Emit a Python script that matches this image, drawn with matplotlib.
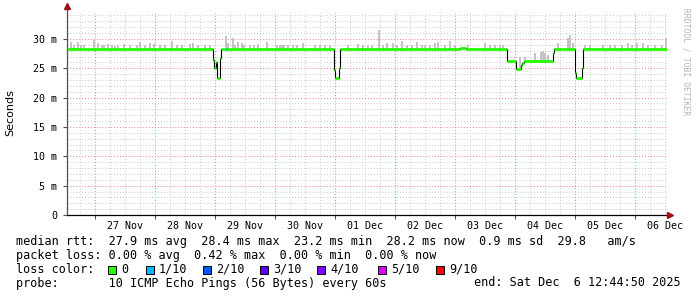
import datetime as dt
import numpy as np
import matplotlib
matplotlib.use("Agg")
import matplotlib.pyplot as plt
import matplotlib.dates as mdates
from matplotlib.patches import Rectangle

# time window of the graph
end = dt.datetime(2025, 12, 6, 12, 44, 50)
start = end - dt.timedelta(days=10)

# median rtt as steps: hours since window start -> ms
med_hours = [0.0, 58.4, 58.8, 59.6, 60.0, 61.2, 61.6, 106.8, 107.2, 108.8, 109.2,
             157.2, 159.6, 176.0, 179.6, 181.6, 182.0, 182.8, 194.4, 194.8,
             203.2, 203.6, 206.0, 206.4]
med_ms = [28.2, 26.4, 25.0, 26.0, 23.3, 26.8, 28.2, 24.7, 23.3, 25.0, 28.2,
          28.4, 28.2, 26.2, 24.9, 25.6, 25.9, 26.2, 27.6, 28.2,
          24.2, 23.3, 25.0, 28.2]

# smoke: max ping per spike (hours since start -> ms)
smoke_hours = [1.6, 2.8, 4.4, 5.6, 6.8, 10.8, 12.4, 14.0, 14.8, 16.4, 18.0, 19.2, 20.4,
               22.8, 25.2, 28.0, 29.2, 31.2, 33.2, 34.8, 37.2, 39.2, 42.0, 44.0, 46.0,
               49.2, 50.4, 52.4, 55.2, 57.2,
               63.6, 64.4, 66.4, 67.2, 68.4, 70.0, 70.8, 73.2, 74.8, 76.4, 80.0, 84.0,
               85.2, 86.0, 86.8, 88.4, 90.4, 92.0, 94.4, 99.2, 101.2, 103.2, 105.2,
               112.4, 116.4, 118.4, 120.4,
               122.0, 124.8, 126.4, 128.0, 130.4, 132.0, 134.0, 136.0, 138.0, 140.0,
               142.0, 143.2, 145.2, 147.2, 148.4, 151.2, 153.2, 155.2, 160.4, 167.2,
               169.2, 171.2, 173.2, 174.4,
               181.2, 183.2, 187.2, 189.6, 190.4, 191.2, 192.4, 196.4, 200.4, 201.2,
               202.4, 207.2, 209.2, 214.4, 217.2, 219.2, 222.0, 224.4, 226.0, 228.0,
               230.4, 232.4, 235.2, 238.0, 239.6]
smoke_ms = [29.5, 28.9, 29.4, 29.0, 28.9, 29.8, 29.3, 29.0, 28.9, 29.1, 28.9, 28.8, 28.9,
            29.1, 29.0, 29.0, 29.5, 29.0, 29.3, 29.1, 28.9, 29.0, 29.7, 28.9, 29.0,
            29.1, 29.3, 28.9, 29.0, 28.9,
            30.5, 29.3, 30.1, 29.0, 29.5, 29.3, 28.9, 28.9, 28.9, 29.1, 29.4, 29.0,
            29.0, 29.0, 29.0, 28.9, 29.0, 28.9, 29.3, 29.0, 28.9, 28.9, 28.9,
            28.9, 29.1, 28.9, 29.0,
            29.0, 31.5, 29.0, 29.3, 29.3, 29.0, 29.7, 28.9, 29.0, 29.5,
            29.0, 29.0, 28.9, 29.3, 29.5, 29.0, 29.7, 28.9, 28.9, 29.3,
            29.0, 28.9, 29.0, 28.9,
            27.0, 27.0, 27.6, 27.8, 28.0, 27.6, 27.3, 29.3, 30.1, 30.7,
            29.3, 29.0, 28.9, 29.0, 28.9, 28.9, 29.0, 29.3, 28.9, 29.3,
            29.3, 28.9, 29.0, 28.9, 30.1]

# packet loss events (hours since start, lost pings out of 10)
loss_hours = [63.6]
loss_count = [1]

loss_levels = ["0", "1/10", "2/10", "3/10", "4/10", "5/10", "9/10"]
loss_colors = ["#26ff00", "#00b8ff", "#0059ff", "#5e00ff", "#7e00ff", "#dd00ff", "#ff0000"]
loss_color_of = {0: 0, 1: 1, 2: 2, 3: 3, 4: 4, 5: 5, 9: 6}

W, H = 697, 297
mono = "DejaVu Sans Mono"


def hrs(h):
    return mdates.date2num(start + dt.timedelta(hours=h))


def fx(px):
    return px / W


def fy(py):
    return 1 - py / H


fig = plt.figure(figsize=(W / 100, H / 100), dpi=100)
fig.patch.set_facecolor("white")
ax = fig.add_axes([fx(67), fy(215), 600 / W, (215 - 12.5) / H])
ax.set_facecolor("white")

x0, x1 = hrs(0), hrs(240)
ax.set_xlim(x0, x1)
ax.set_ylim(0, 34.5)

# grid: minor every 6h / 1 ms, major at midnight / 5 ms
six = []
cur = start.replace(minute=0, second=0) + dt.timedelta(hours=1)
while cur < end:
    if cur.hour % 6 == 0:
        six.append(cur)
    cur += dt.timedelta(hours=1)
for c in six:
    if c.hour == 0:
        ax.axvline(mdates.date2num(c), color="#f08080", lw=0.7, ls=(0, (1, 2)), zorder=1)
    else:
        ax.axvline(mdates.date2num(c), color="#c8c8c8", lw=0.7, ls=(0, (1, 2)), zorder=0.5)
for v in range(1, 35):
    if v % 5 == 0:
        ax.axhline(v, color="#f08080", lw=0.7, ls=(0, (1, 2)), zorder=1)
    else:
        ax.axhline(v, color="#c8c8c8", lw=0.7, ls=(0, (1, 2)), zorder=0.5)

# smoke
mh = np.array(med_hours)
mv = np.array(med_ms)
for h, top in zip(smoke_hours, smoke_ms):
    base = mv[np.searchsorted(mh, h, side="right") - 1]
    ax.vlines(hrs(h), base - 0.3, top, color="#b4b4b4", lw=1.1, zorder=2)

# median: black step line, loss-coloured horizontal pieces on top
step_x = [hrs(h) for h in med_hours] + [x1]
step_y = med_ms + [med_ms[-1]]
ax.step(step_x, step_y, where="post", color="black", lw=0.8, zorder=3)
for i in range(len(med_hours)):
    ax.hlines(med_ms[i], step_x[i], step_x[i + 1], color=loss_colors[0], lw=2.0, zorder=4)
for h, n in zip(loss_hours, loss_count):
    base = mv[np.searchsorted(mh, h, side="right") - 1]
    ax.hlines(base, hrs(h), hrs(h + 0.4), color=loss_colors[loss_color_of[n]], lw=2.0, zorder=5)

# axes, ticks, arrows
for s in ["top", "right"]:
    ax.spines[s].set_visible(False)
ax.spines["bottom"].set_color("black")
ax.spines["left"].set_color("#505050")
ax.spines["bottom"].set_linewidth(0.9)
ax.spines["left"].set_linewidth(0.9)
ax.spines["left"].set_bounds(0, 35.2)
ax.spines["bottom"].set_bounds(x0, x1 + 0.02)
ax.plot([x1 + 0.05], [0], marker=">", color="#a01010", ms=4, clip_on=False, zorder=6)
ax.plot([x0], [35.6], marker="^", color="#a01010", ms=4, clip_on=False, zorder=6)

midn = [mdates.date2num(c) for c in six if c.hour == 0]
noons = [mdates.date2num(c) for c in six if c.hour == 12]
ax.set_xticks(midn)
ax.set_xticklabels([])
ax.tick_params(axis="x", which="major", length=3, color="#505050", width=0.8)
ax.xaxis.set_minor_locator(matplotlib.ticker.FixedLocator(noons))
ax.xaxis.set_minor_formatter(mdates.DateFormatter("%d %b"))
ax.tick_params(axis="x", which="minor", length=0, pad=4, labelsize=7.2)
for lab in ax.get_xticklabels(minor=True):
    lab.set_family(mono)

yt = [0, 5, 10, 15, 20, 25, 30]
ax.set_yticks(yt)
ax.set_yticklabels(["0"] + ["%d m" % v for v in yt[1:]], family=mono, fontsize=7.2)
ax.tick_params(axis="y", length=3, color="#505050", width=0.8, pad=4)

fig.text(fx(10), fy(113), "Seconds", rotation=90, ha="center", va="center",
         fontsize=8, family="DejaVu Sans")
fig.text(fx(686), fy(8), "RRDTOOL / TOBI OETIKER", rotation=270, ha="center", va="top",
         fontsize=5.8, family=mono, color="#b4b4b4")

# legend lines
fs = 8.5
fig.text(fx(16), fy(241), "median rtt:  27.9 ms avg  28.4 ms max  23.2 ms min  28.2 ms now  0.9 ms sd  29.8   am/s",
         family=mono, fontsize=fs, va="center")
fig.text(fx(16), fy(256), "packet loss: 0.00 % avg  0.42 % max  0.00 % min  0.00 % now",
         family=mono, fontsize=fs, va="center")
fig.text(fx(16), fy(269.5), "loss color:", family=mono, fontsize=fs, va="center")
sq_x = [108, 146, 203, 260, 317, 378, 436]
for px, lab, col in zip(sq_x, loss_levels, loss_colors):
    fig.add_artist(Rectangle((fx(px), fy(273.5)), 8 / W, 8 / H, transform=fig.transFigure,
                             facecolor=col, edgecolor="black", lw=0.7))
    fig.text(fx(px + 13), fy(269.5), lab, family=mono, fontsize=fs, va="center")
fig.text(fx(16), fy(283), "probe:       10 ICMP Echo Pings (56 Bytes) every 60s",
         family=mono, fontsize=fs, va="center")
fig.text(fx(681), fy(283), "end: Sat Dec  6 12:44:50 2025", family=mono, fontsize=fs,
         va="center", ha="right")

fig.savefig("out.png", dpi=100)
